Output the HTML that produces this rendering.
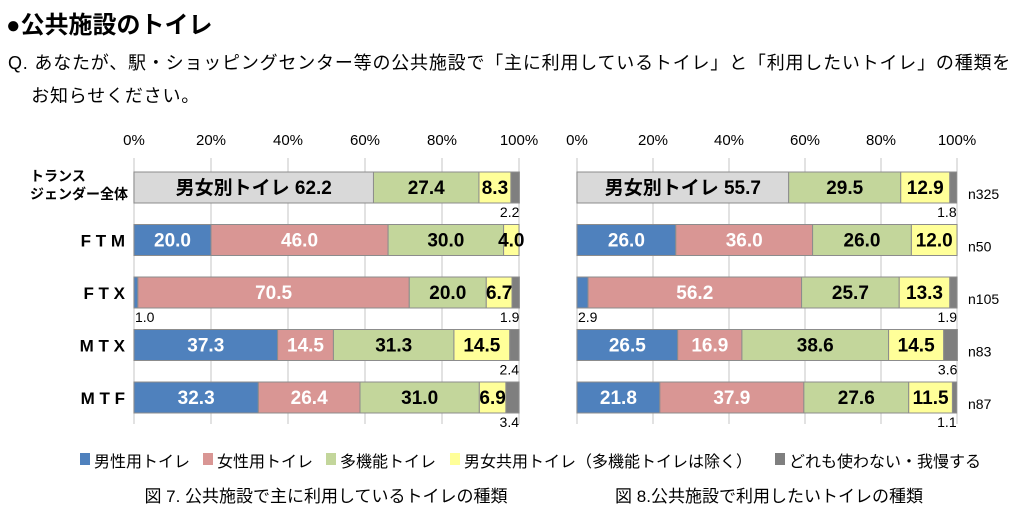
<!DOCTYPE html>
<html><head><meta charset="utf-8"><style>
body{margin:0;width:1022px;height:526px;background:#fff;overflow:hidden;font-family:"Liberation Sans","Noto Sans CJK JP",sans-serif;color:#000}
.t{position:absolute;white-space:nowrap}
</style></head><body>
<div class="t" style="left:6px;top:5px;font-size:24px;font-weight:bold">●公共施設のトイレ</div>
<div class="t" style="left:8px;top:47px;font-size:18px;line-height:33px;letter-spacing:0.8px">Q. あなたが、駅・ショッピングセンター等の公共施設で「主に利用しているトイレ」と「利用したいトイレ」の種類を<br>&nbsp;&nbsp;&nbsp;&nbsp;お知らせください。</div>
<svg id="chart" width="1022" height="526" style="position:absolute;left:0;top:0"></svg>
<script>
const categories=["トランスジェンダー全体","FTM","FTX","MTX","MTF"];
const seriesNames=["男性用トイレ","女性用トイレ","多機能トイレ","男女共用トイレ（多機能トイレは除く）","どれも使わない・我慢する"];
const firstRowMixed=[62.2,27.4,8.3,2.2];
const leftBlue=[20.0,1.0,37.3,32.3];
const leftPink=[46.0,70.5,14.5,26.4];
const leftGreen=[30.0,20.0,31.3,31.0];
const leftYellow=[4.0,6.7,14.5,6.9];
const leftGray=[0,1.9,2.4,3.4];
const rightFirstRow=[55.7,29.5,12.9,1.8];
const rightBlue=[26.0,2.9,26.5,21.8];
const rightPink=[36.0,56.2,16.9,37.9];
const rightGreen=[26.0,25.7,38.6,27.6];
const rightYellow=[12.0,13.3,14.5,11.5];
const rightGray=[0,1.9,3.6,1.1];
const nLabels=["n325","n50","n105","n83","n87"];
const ticks=["0%","20%","40%","60%","80%","100%"];
const colors=["#4f81bd","#d99694","#c3d69b","#ffff99","#7f7f7f"];
const svg=document.getElementById('chart');
const NS="http://www.w3.org/2000/svg";
function el(tag,attrs,parent){const e=document.createElementNS(NS,tag);for(const k in attrs)e.setAttribute(k,attrs[k]);(parent||svg).appendChild(e);return e;}
function txt(x,y,s,size,anchor,fill,weight,parent){const t=el('text',{x:x,y:y,'font-size':size,'text-anchor':anchor,fill:fill,'font-weight':weight,'font-family':'"Liberation Sans","Noto Sans CJK JP",sans-serif'},parent);t.textContent=s;return t;}
const rowY=i=>172+i*52.5;
const barH=31;
function drawChart(x0,x1,first,B,P,G,Y,Gr,name,showCats,showN){
  const g=el('g',{});
  
  
  const xs=v=>x0+(x1-x0)*v/100;
  ticks.forEach((tk,i)=>{const x=xs(i*20);
    const l=el('line',{x1:x,x2:x,y1:158,y2:424,stroke:'#d9d9d9','stroke-width':1.5},g);
    
    const t=txt(x,145,tk,15,'middle','#000','normal',g);
    });
  categories.forEach((c,i)=>{
    const y=rowY(i);
    let vals,cols,labels;
    if(i===0){vals=first;cols=['#d9d9d9',colors[2],colors[3],colors[4]];labels=['男女別トイレ '+first[0].toFixed(1),first[1].toFixed(1),first[2].toFixed(1),first[3].toFixed(1)];}
    else{const j=i-1;vals=[B[j],P[j],G[j],Y[j],Gr[j]];cols=colors;labels=vals.map(v=>v.toFixed(1));}
    let acc=0;
    vals.forEach((v,k)=>{
      if(v<=0)return;
      const xa=xs(acc),xb=xs(acc+v);acc+=v;
      const r=el('rect',{x:xa,y:y,width:xb-xa,height:barH,fill:cols[k],stroke:'#8c8c8c','stroke-width':1},g);
      
      const white=(i>0&&k<2);
      const isGray=cols[k]===colors[4];
      let t;
      if(isGray){t=txt(xb,y+barH+14,labels[k],14,'end','#000','normal',g);}
      else if(v<3){t=txt(xa+1,y+barH+14,labels[k],14,'start','#000','normal',g);}
      else{t=txt((xa+xb)/2,y+22,labels[k],19,'middle',white?'#fff':'#000','bold',g);}
      
    });
    if(showCats){
      if(i===0){const t1=txt(30,181,'トランス',14,'start','#000','bold',g);
        const t2=txt(30,199,'ジェンダー全体',14,'start','#000','bold',g);}
      else{const t=txt(125,y+22,c.split('').join(' '),17,'end','#000','bold',g);}
    }
    if(showN){const t=txt(968,y+27,nLabels[i],14,'start','#000','normal',g);}
  });
}
drawChart(134,519,firstRowMixed,leftBlue,leftPink,leftGreen,leftYellow,leftGray,'chart-fig7',true,false);
drawChart(577,957,rightFirstRow,rightBlue,rightPink,rightGreen,rightYellow,rightGray,'chart-fig8',false,true);
const lx=[80,203,326,450,775];
seriesNames.forEach((s,i)=>{
  const r=el('rect',{x:lx[i],y:453,width:10,height:12,fill:colors[i]});
  
  const t=txt(lx[i]+14,467,s,16,'start','#000','normal');
  
});
const c1=txt(326,502,'図 7. 公共施設で主に利用しているトイレの種類',17,'middle','#000','normal');

const c2=txt(769,502,'図 8.公共施設で利用したいトイレの種類',17,'middle','#000','normal');

</script>
</body></html>
